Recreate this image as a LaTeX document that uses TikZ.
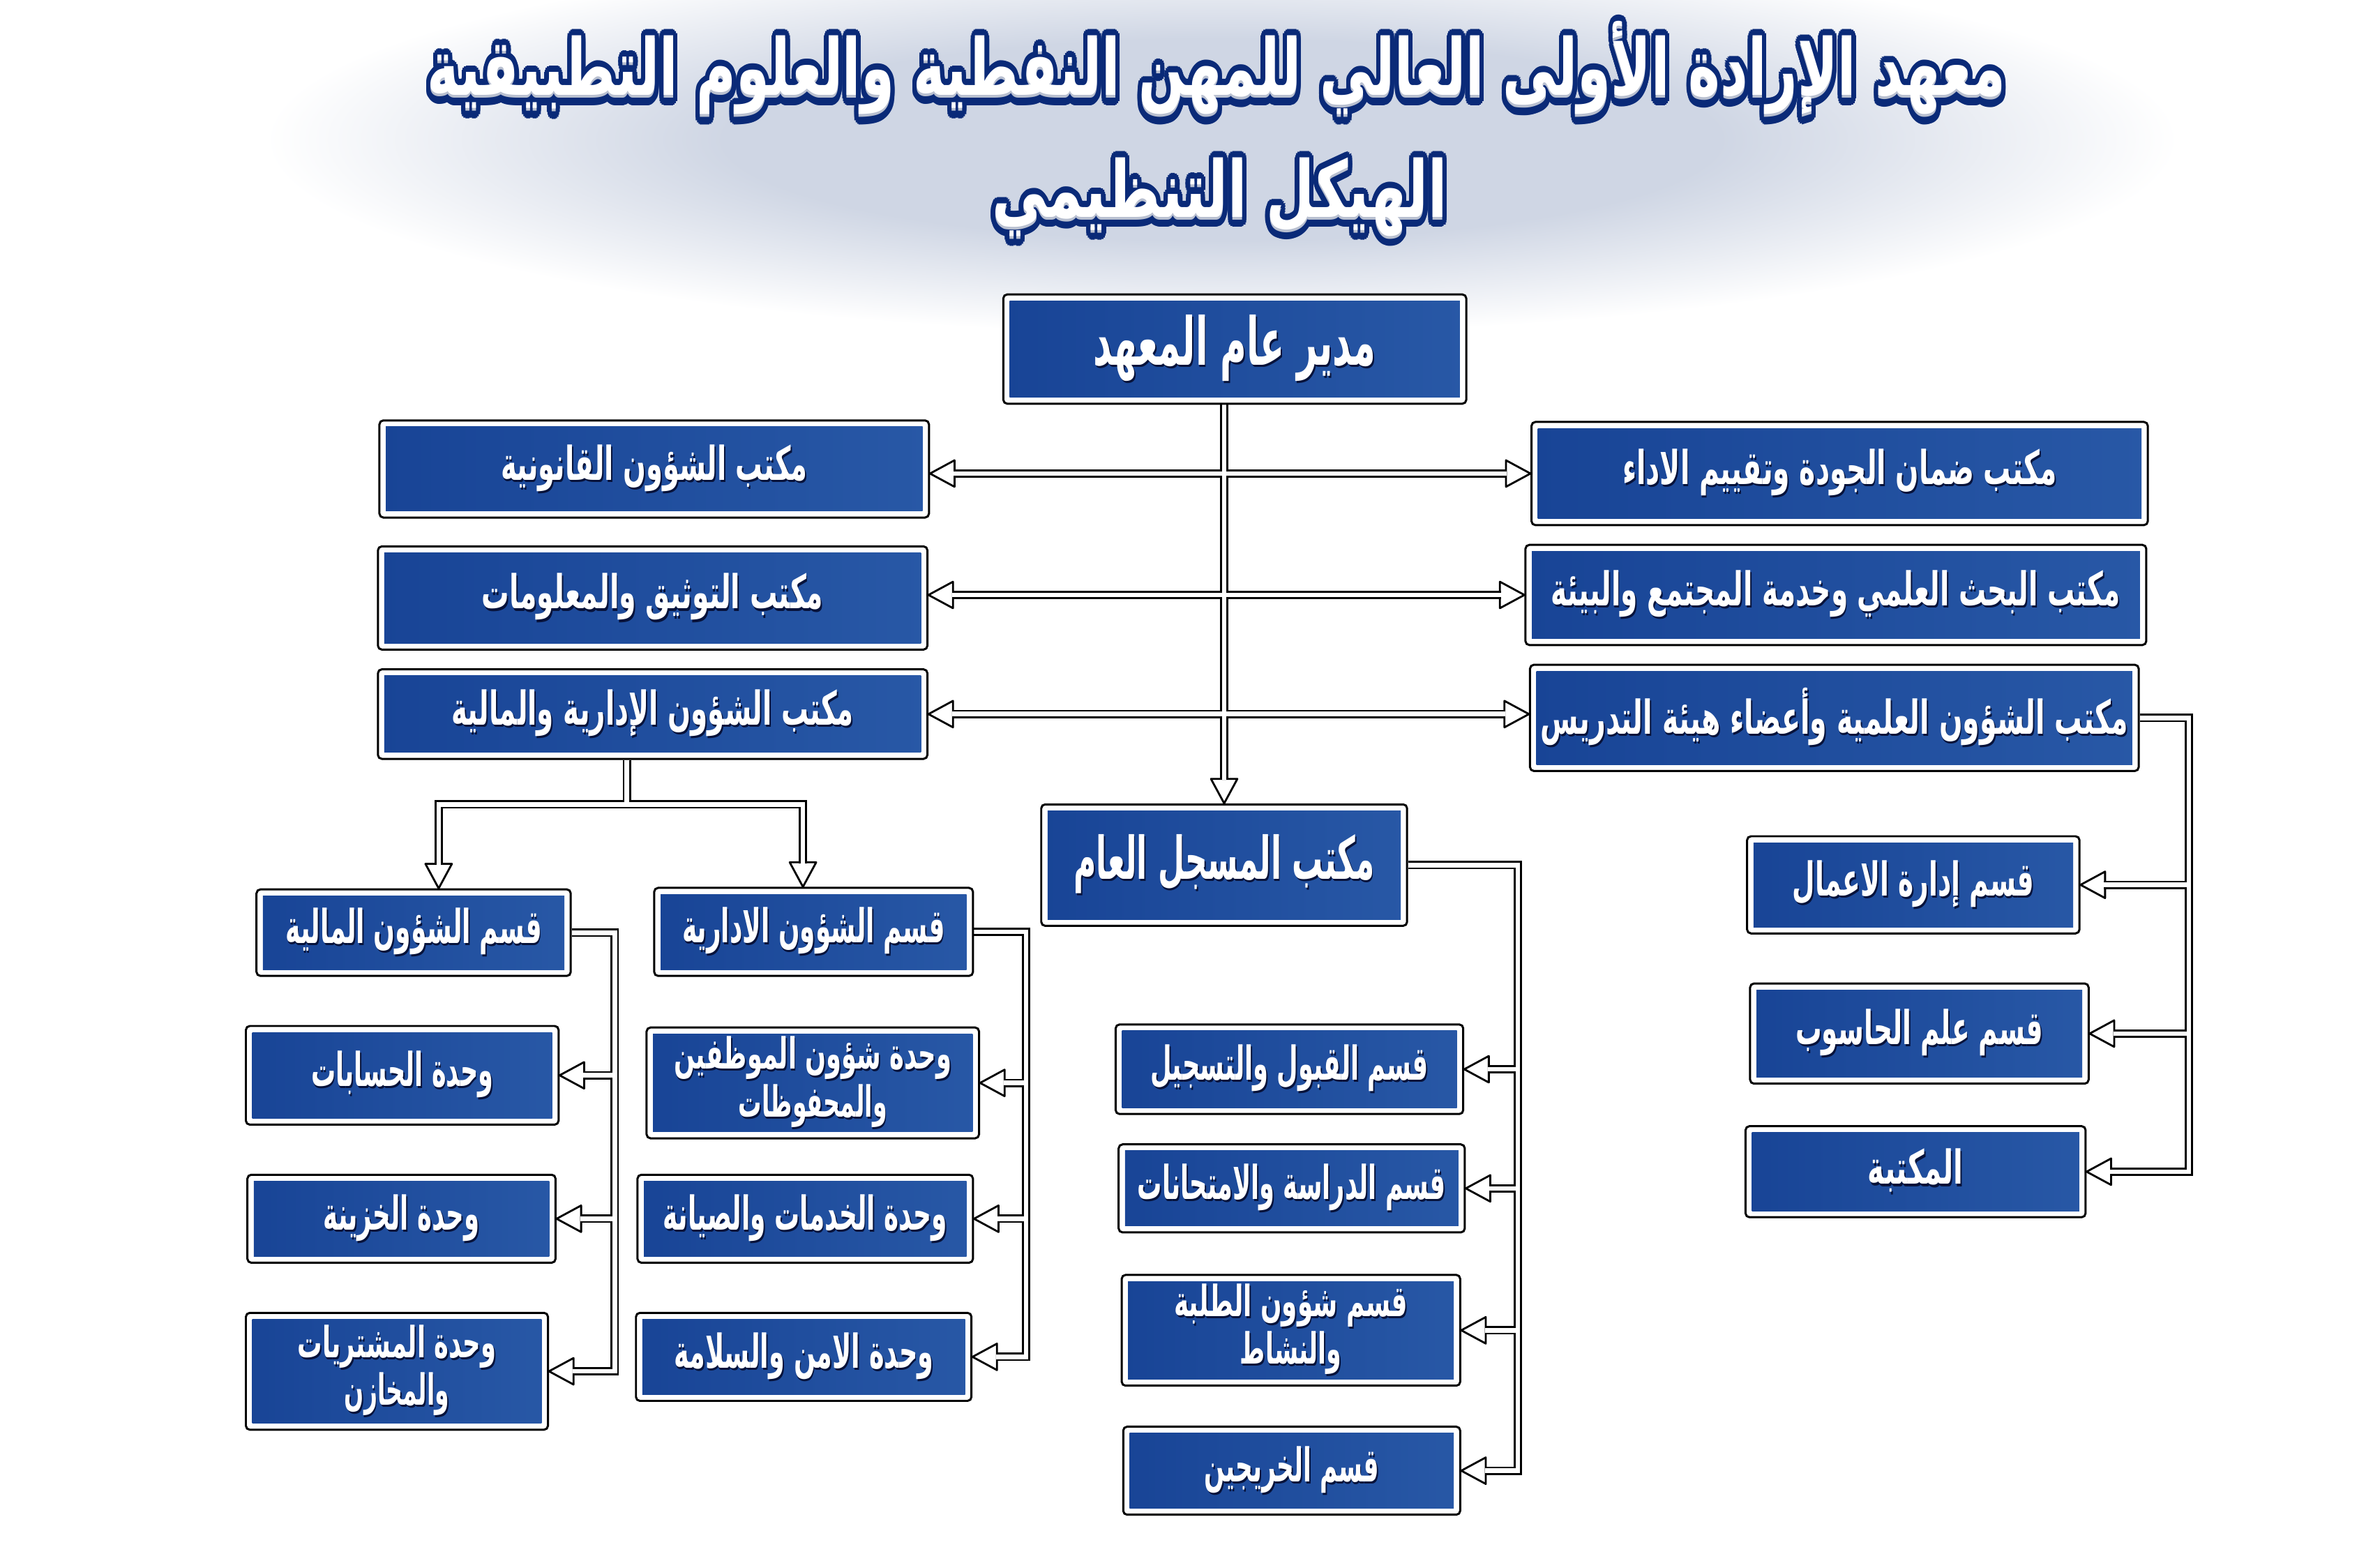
\documentclass[tikz,border=0pt]{standalone}
\usepackage{fontspec}
\usepackage{graphicx}
\TeXXeTstate=1
\newfontfamily\arabicfont[Script=Arabic]{DejaVu Sans}
\newlength\mpx
\setlength\mpx{0.61914pt}
\definecolor{bxa}{RGB}{24,68,150}
\definecolor{bxb}{RGB}{40,88,166}
\definecolor{tshadow}{RGB}{6,18,58}
\definecolor{ttlblue}{RGB}{10,42,120}
\definecolor{glow}{RGB}{207,214,228}
\definecolor{ttlgray}{RGB}{185,192,208}
\pgfdeclarelayer{bg}
\pgfsetlayers{bg,main}
\pgfdeclareradialshading{glowshade}{\pgfpoint{0bp}{0bp}}{color(0bp)=(glow); color(13bp)=(glow); color(25bp)=(white); color(50bp)=(white)}

\newcommand\ar[1]{{\arabicfont\bfseries #1}}
\newcommand\bt[2]{\resizebox{#1\mpx}{\height}{\rlap{\kern0.9pt\raisebox{-0.9pt}{\color{tshadow}\ar{#2}}}\ar{#2}}}
\newcommand\ttltext[2]{\resizebox{#1\mpx}{\height}{%
\foreach \ang in {0,22.5,...,337.5}{%
\pgfmathsetlengthmacro\ox{2.6pt*cos(\ang)}%
\pgfmathsetlengthmacro\oy{2.6pt*sin(\ang)-1.4pt}%
\rlap{\kern\ox\raisebox{\oy}{\color{ttlblue}\ar{#2}}}}%
\foreach \ang in {0,22.5,...,337.5}{%
\pgfmathsetlengthmacro\ox{2.6pt*cos(\ang)}%
\pgfmathsetlengthmacro\oy{2.6pt*sin(\ang)}%
\rlap{\kern\ox\raisebox{\oy}{\color{ttlblue}\ar{#2}}}}%
\rlap{\raisebox{-1pt}{\color{ttlgray}\ar{#2}}}%
{\color{white}\ar{#2}}}}

\newcommand\connpaths[1]{%
\draw[#1, endshort] (reg.north |- dir.south) -- (reg.north);
\draw[#1, bothshort] (r1.west -| l1.east) -- (r1.west);
\draw[#1, bothshort] (r2.west -| l2.east) -- (r2.west);
\draw[#1, bothshort] (l3.east) -- (l3.east -| r3.west);
\draw[#1] (l3.south -| j1) -- (j1);
\draw[#1, endshort] (j1) -| (fin.north -| jf);
\draw[#1, endshort] (j1) -| (adm.north -| ja);
\draw[#1, endshort] (fin.east) -| (u3.east -| bf) -- (u3.east);
\draw[#1, endshort] (u1.east -| bf) -- (u1.east);
\draw[#1, endshort] (u2.east -| bf) -- (u2.east);
\draw[#1, endshort] (adm.east) -| (a3.east -| ba) -- (a3.east);
\draw[#1, endshort] (a1.east -| ba) -- (a1.east);
\draw[#1, endshort] (a2.east -| ba) -- (a2.east);
\draw[#1, endshort] (reg.east) -| (g4.east -| bg) -- (g4.east);
\draw[#1, endshort] (g1.east -| bg) -- (g1.east);
\draw[#1, endshort] (g2.east -| bg) -- (g2.east);
\draw[#1, endshort] (g3.east -| bg) -- (g3.east);
\draw[#1, endshort] (r3.east) -| (s3.east -| bs) -- (s3.east);
\draw[#1, endshort] (s1.east -| bs) -- (s1.east);
\draw[#1, endshort] (s2.east -| bs) -- (s2.east);
}

\begin{document}
\begin{tikzpicture}[x=0.0217602cm, y=-0.0217602cm,
 box/.style={draw=black, line width=0.85pt, fill=white, rounded corners=1.6pt, inner sep=0pt, text=white, align=center, font=\fontsize{19}{19}\selectfont,
  path picture={\shade[sharp corners, left color=bxa, right color=bxb] ([shift={(2.6pt,2.6pt)}]path picture bounding box.south west) rectangle ([shift={(-2.6pt,-2.6pt)}]path picture bounding box.north east);}},
 bsize/.style 2 args={minimum width=#1*\mpx, minimum height=#2*\mpx},
 big/.style={font=\fontsize{27}{28}\selectfont},
 mid/.style={font=\fontsize{24}{25}\selectfont},
 two/.style={font=\fontsize{17.5}{17}\selectfont},
 ttlnode/.style={inner sep=0pt, font=\fontsize{32}{34}\selectfont},
 arrowhd/.pic={\draw[black, fill=white, line width=0.8pt, line join=round] (0,0) -- (-10pt,5.4pt) -- (-10pt,-5.4pt) -- cycle;},
 blackpass/.style={draw=black, line width=3.4pt},
 whitepass/.style={draw=white, line width=1.9pt},
 endshort/.style={shorten >=9.6pt},
 bothshort/.style={shorten <=9.6pt, shorten >=9.6pt}]

\useasboundingbox (0,0) rectangle (1568,1019);

% titles
\node[ttlnode] (t1) at (801.5,46) {\ttltext{1040}{\beginR معهد الإرادة الأولى العالي للمهن النفطية والعلوم التطبيقية\endR}};
\node[ttlnode] (t2) at (803.5,131) {\ttltext{300}{\beginR الهيكل التنظيمي\endR}};

% boxes
\node[box, big, bsize={305}{72}] (dir) at (813.5,230) {\bt{186}{\beginR مدير عام المعهد\endR}};
\node[box, bsize={362}{64}] (l1) at (431,309) {\bt{202}{\beginR مكتب الشؤون القانونية\endR}};
\node[box, bsize={362}{68}] (l2) at (430,394) {\bt{225}{\beginR مكتب التوثيق والمعلومات\endR}};
\node[box, bsize={362}{59}] (l3) at (430,470.5) {\bt{265}{\beginR مكتب الشؤون الإدارية والمالية\endR}};
\node[box, bsize={406}{68}] (r1) at (1212,312) {\bt{286}{\beginR مكتب ضمان الجودة وتقييم الاداء\endR}};
\node[box, bsize={409}{66}] (r2) at (1209.5,392) {\bt{375}{\beginR مكتب البحث العلمي وخدمة المجتمع والبيئة\endR}};
\node[box, bsize={401}{70}] (r3) at (1208.5,473) {\bt{387}{\beginR مكتب الشؤون العلمية وأعضاء هيئة التدريس\endR}};
\node[box, mid, bsize={241}{80}] (reg) at (806.5,570) {\bt{198}{\beginR مكتب المسجل العام\endR}};
\node[box, bsize={207}{57}] (fin) at (272.5,614.5) {\bt{169}{\beginR قسم الشؤون المالية\endR}};
\node[box, bsize={210}{58}] (adm) at (536,614) {\bt{173}{\beginR قسم الشؤون الادارية\endR}};
\node[box, bsize={206}{65}] (u1) at (265,708.5) {\bt{120}{\beginR وحدة الحسابات\endR}};
\node[box, bsize={203}{58}] (u2) at (264.5,803) {\bt{103}{\beginR وحدة الخزينة\endR}};
\node[box, two, bsize={199}{77}] (u3) at (261.5,903.5) {\bt{131}{\beginR وحدة المشتريات\endR}\\\bt{69}{\beginR والمخازن\endR}};
\node[box, two, bsize={219}{73}] (a1) at (535.5,713.5) {\bt{183}{\beginR وحدة شؤون الموظفين\endR}\\\bt{98}{\beginR والمحفوظات\endR}};
\node[box, bsize={221}{58}] (a2) at (530.5,803) {\bt{187}{\beginR وحدة الخدمات والصيانة\endR}};
\node[box, bsize={221}{58}] (a3) at (529.5,894) {\bt{171}{\beginR وحدة الامن والسلامة\endR}};
\node[box, bsize={229}{59}] (g1) at (849.5,704.5) {\bt{183}{\beginR قسم القبول والتسجيل\endR}};
\node[box, bsize={228}{58}] (g2) at (851,783) {\bt{203}{\beginR قسم الدراسة والامتحانات\endR}};
\node[box, two, bsize={223}{73}] (g3) at (850.5,876.5) {\bt{154}{\beginR قسم شؤون الطلبة\endR}\\\bt{67}{\beginR والنشاط\endR}};
\node[box, bsize={222}{58}] (g4) at (851,969) {\bt{115}{\beginR قسم الخريجين\endR}};
\node[box, bsize={219}{64}] (s1) at (1260.5,583) {\bt{159}{\beginR قسم إدارة الاعمال\endR}};
\node[box, bsize={223}{66}] (s2) at (1264.5,681) {\bt{163}{\beginR قسم علم الحاسوب\endR}};
\node[box, bsize={224}{60}] (s3) at (1262,772) {\bt{63}{\beginR المكتبة\endR}};

% junction coordinates
\coordinate (j1) at (413,530);
\coordinate (jf) at (289,530);
\coordinate (ja) at (529,530);
\coordinate (bf) at (405,0);
\coordinate (ba) at (676,0);
\coordinate (bg) at (1000,0);
\coordinate (bs) at (1442,0);

\begin{pgfonlayer}{bg}
\fill[white] (0,0) rectangle (1568,1019);
\shade[shading=glowshade] (805,92) ellipse [x radius=630, y radius=128];
% arrow heads
\pic[rotate=-90] at (reg.north) {arrowhd};
\pic[rotate=180] at (r1.west -| l1.east) {arrowhd};
\pic at (r1.west) {arrowhd};
\pic[rotate=180] at (r2.west -| l2.east) {arrowhd};
\pic at (r2.west) {arrowhd};
\pic[rotate=180] at (l3.east) {arrowhd};
\pic at (l3.east -| r3.west) {arrowhd};
\pic[rotate=-90] at (fin.north -| jf) {arrowhd};
\pic[rotate=-90] at (adm.north -| ja) {arrowhd};
\foreach \n in {u1,u2,u3,a1,a2,a3,g1,g2,g3,g4,s1,s2,s3}{\pic[rotate=180] at (\n.east) {arrowhd};}
% connectors: outline pass then inner pass
\connpaths{blackpass}
\connpaths{whitepass}
\end{pgfonlayer}
\end{tikzpicture}
\end{document}
